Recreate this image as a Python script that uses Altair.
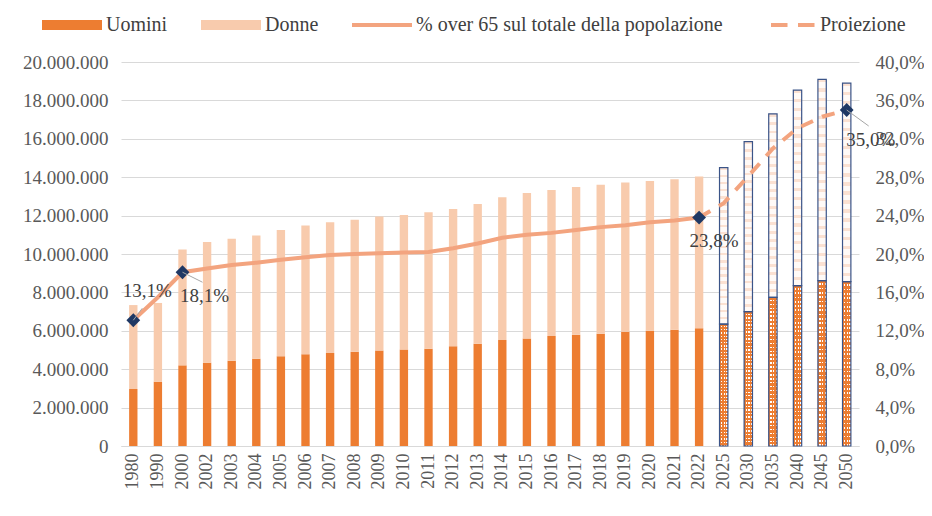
import altair as alt
import pandas as pd

# ---------------- data ----------------
years = ["1980", "1990", "2000", "2002", "2003", "2004", "2005", "2006", "2007",
         "2008", "2009", "2010", "2011", "2012", "2013", "2014", "2015", "2016",
         "2017", "2018", "2019", "2020", "2021", "2022",
         "2025", "2030", "2035", "2040", "2045", "2050"]
men = [2970000, 3350000, 4200000, 4340000, 4440000, 4550000, 4670000, 4780000,
       4840000, 4910000, 4970000, 5020000, 5070000, 5190000, 5330000, 5520000,
       5600000, 5730000, 5800000, 5850000, 5950000, 6000000, 6060000, 6130000,
       6350000, 7000000, 7740000, 8350000, 8610000, 8560000]
women = [4370000, 4100000, 6040000, 6280000, 6360000, 6420000, 6580000, 6700000,
         6810000, 6880000, 6980000, 7010000, 7100000, 7150000, 7270000, 7430000,
         7580000, 7600000, 7690000, 7760000, 7780000, 7800000, 7830000, 7900000,
         8150000, 8850000, 9560000, 10190000, 10490000, 10340000]
hist_years = years[:24]
pct_hist = [0.131, 0.155, 0.181, 0.185, 0.1885, 0.191, 0.194, 0.1965, 0.199,
            0.200, 0.2007, 0.2015, 0.202, 0.206, 0.211, 0.217, 0.220, 0.222,
            0.225, 0.228, 0.230, 0.233, 0.235, 0.238]
proj_years = ["2022", "2025", "2030", "2035", "2040", "2045", "2050"]
pct_proj = [0.238, 0.253, 0.281, 0.310, 0.331, 0.343, 0.350]
label_years = ["1980", "2000", "2022", "2050"]
label_values = [0.131, 0.181, 0.238, 0.350]
label_texts = ["13,1%", "18,1%", "23,8%", "35,0%"]
legend_labels = ["Uomini", "Donne", "% over 65 sul totale della popolazione", "Proiezione"]

# ---------------- styles ----------------
FONT = "Liberation Serif"
ORANGE = "#ed7d31"
LIGHT = "#f8cbad"
LINE = "#f3a47f"
NAVY = "#1f3864"
OUTLINE = "#3b5488"
GRID = "#d9d9d9"
AXIS = "#595959"
TEXT = "#404040"
label_dx = [14, 22, 15, 24]
label_dy = [-29, 24, 23, 30]
leader_paths = ["M0,0L9,-12", "M0,0L20,10", "M0,0L0,0", "M0,0L22,16"]

bars_df = pd.DataFrame({"year": years, "men": men, "women": women})
bars_df["total"] = bars_df["men"] + bars_df["women"]
bars_df["proj"] = [y in proj_years[1:] for y in years]
hist_df = pd.DataFrame({"year": hist_years, "pct": pct_hist})
proj_df = pd.DataFrame({"year": proj_years, "pct": pct_proj})
lab_df = pd.DataFrame({"year": label_years, "pct": label_values, "text": label_texts})
leg_df = pd.DataFrame({"series": legend_labels})

x_enc = alt.X(
    "year:N", sort=years,
    scale=alt.Scale(domain=years, paddingInner=0.66, paddingOuter=0.33),
    axis=alt.Axis(title=None, labelAngle=-90, labelFont=FONT, labelFontSize=18,
                  labelColor=AXIS, labelPadding=7, ticks=False, domainColor=GRID,
                  domainWidth=1, grid=False),
)

left_axis = alt.Axis(
    title=None, values=list(range(0, 20000001, 2000000)), format=",d",
    labelExpr="replace(datum.label, regexp(',', 'g'), '.')",
    labelFont=FONT, labelFontSize=19, labelColor=AXIS, labelPadding=13,
    ticks=False, domain=False, grid=True, gridColor=GRID, gridWidth=1,
)
left_scale = alt.Scale(domain=[0, 20000000], nice=False)

right_axis = alt.Axis(
    title=None, orient="right", values=[round(0.04 * k, 2) for k in range(11)],
    format=".1%", labelExpr="replace(datum.label, '.', ',')",
    labelFont=FONT, labelFontSize=19, labelColor=AXIS, labelPadding=16,
    ticks=False, domain=False, grid=False,
)
right_scale = alt.Scale(domain=[0, 0.4], nice=False)


def stripes(c1, c2, n, frac, horizontal=True):
    stops = []
    for k in range(n):
        a = k / n
        b = (k + frac) / n
        c = (k + 1) / n
        stops += [alt.GradientStop(offset=a, color=c1), alt.GradientStop(offset=b, color=c1),
                  alt.GradientStop(offset=b, color=c2), alt.GradientStop(offset=c, color=c2)]
    if horizontal:
        return alt.LinearGradient(gradient="linear", stops=stops, x1=0, x2=0, y1=0, y2=1)
    return alt.LinearGradient(gradient="linear", stops=stops, x1=0, x2=1, y1=0, y2=0)


base = alt.Chart(bars_df)
hist = base.transform_filter("!datum.proj")
proj = base.transform_filter("datum.proj")

men_hist = hist.mark_bar(color=ORANGE).encode(
    x=x_enc, y=alt.Y("men:Q", scale=left_scale, axis=left_axis))
women_hist = hist.mark_bar(color=LIGHT).encode(
    x=x_enc, y=alt.Y("total:Q", scale=left_scale, axis=left_axis), y2="men:Q")
men_proj_rows = proj.mark_bar(color=stripes(ORANGE, "#ffffff", 38, 0.6)).encode(
    x=x_enc, y=alt.Y("men:Q", scale=left_scale, axis=left_axis))
men_proj_cols = proj.mark_bar(
    color=stripes(ORANGE, "rgba(237,125,49,0)", 3, 0.5, horizontal=False)).encode(
    x=x_enc, y=alt.Y("men:Q", scale=left_scale, axis=left_axis))
women_proj = proj.mark_bar(color=stripes("#fbe1d2", "#fffaf7", 22, 0.35)).encode(
    x=x_enc, y=alt.Y("total:Q", scale=left_scale, axis=left_axis), y2="men:Q")
outline_men = proj.mark_bar(fillOpacity=0, stroke=OUTLINE, strokeWidth=1.2).encode(
    x=x_enc, y=alt.Y("men:Q", scale=left_scale, axis=left_axis))
outline_women = proj.mark_bar(fillOpacity=0, stroke=OUTLINE, strokeWidth=1.2).encode(
    x=x_enc, y=alt.Y("total:Q", scale=left_scale, axis=left_axis), y2="men:Q")

bars = alt.layer(men_hist, women_hist, men_proj_rows, men_proj_cols, women_proj,
                 outline_men, outline_women)

y_pct = alt.Y("pct:Q", scale=right_scale, axis=right_axis)
line_hist = alt.Chart(hist_df).mark_line(color=LINE, strokeWidth=4).encode(x=x_enc, y=y_pct)
line_proj = alt.Chart(proj_df).mark_line(color=LINE, strokeWidth=4, strokeDash=[13, 10]).encode(
    x=x_enc, y=y_pct)
markers = alt.Chart(lab_df).mark_point(shape="diamond", filled=True, size=190, color=NAVY,
                                        opacity=1).encode(x=x_enc, y=y_pct)

label_layers = []
for i, yr in enumerate(label_years):
    sub = alt.Chart(lab_df).transform_filter(alt.datum.year == yr)
    label_layers.append(sub.mark_point(shape=leader_paths[i], size=4, filled=False,
                                       stroke="#a6a6a6", strokeWidth=1, opacity=1)
                        .encode(x=x_enc, y=y_pct))
    label_layers.append(sub.mark_text(dx=label_dx[i], dy=label_dy[i], font=FONT, fontSize=19,
                                      color=TEXT, baseline="middle", align="center")
                        .encode(x=x_enc, y=y_pct, text="text:N"))

legend_shapes = [
    "M-1,-0.17L1,-0.17L1,0.17L-1,0.17Z",
    "M-1,-0.17L1,-0.17L1,0.17L-1,0.17Z",
    "M-1,-0.065L1,-0.065L1,0.065L-1,0.065Z",
    "M-0.5,-0.065L0.05,-0.065L0.05,0.065L-0.5,0.065Z M0.4,-0.065L0.95,-0.065L0.95,0.065L0.4,0.065Z",
]
leg = alt.Legend(orient="none", legendX=-79, legendY=-67, direction="horizontal", columns=4,
                 title=None, columnPadding=33, symbolSize=3600, symbolOpacity=1,
                 symbolStrokeWidth=0, labelFont=FONT, labelFontSize=20, labelColor=TEXT,
                 labelOffset=4, padding=0, labelLimit=0)
legend_layer = alt.Chart(leg_df).mark_point(filled=True, opacity=0).encode(
    color=alt.Color("series:N", scale=alt.Scale(domain=legend_labels,
                                                range=[ORANGE, LIGHT, LINE, LINE]), legend=leg),
    shape=alt.Shape("series:N", scale=alt.Scale(domain=legend_labels, range=legend_shapes),
                    legend=leg),
)

pct_group = alt.layer(line_hist, line_proj, markers, *label_layers, legend_layer)

chart = alt.layer(bars, pct_group).resolve_scale(y="independent").properties(
    width=738, height=384,
    autosize=alt.AutoSizeParams(type="none"),
    padding={"left": 113, "top": 54, "right": 65, "bottom": 62},
    background="white",
).configure_view(stroke=None)

chart.save("out.html", embed_options={"renderer": "svg", "actions": False})
